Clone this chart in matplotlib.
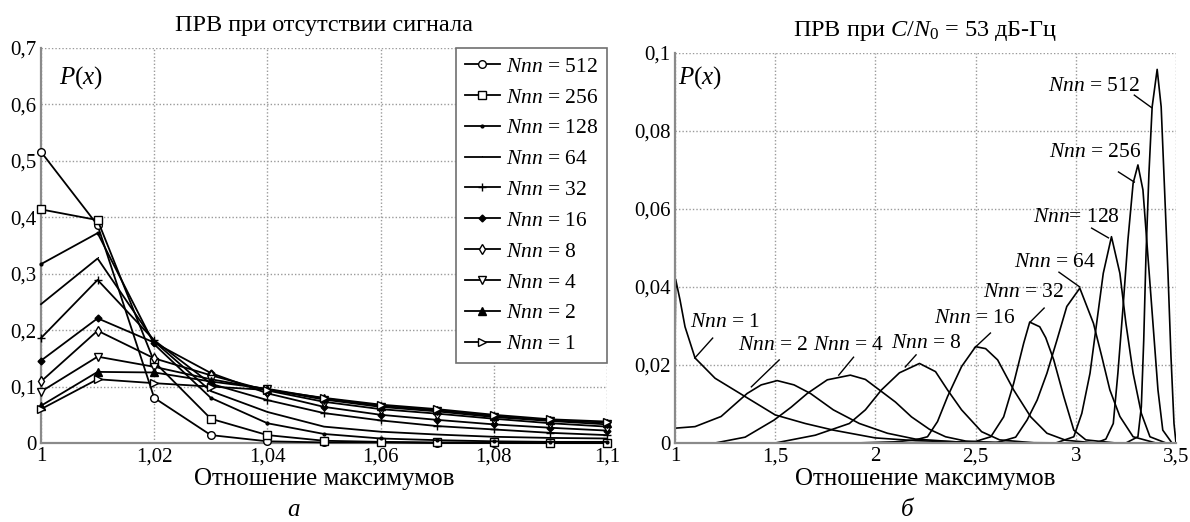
import matplotlib
matplotlib.use("Agg")
import matplotlib.pyplot as plt

plt.rcParams['font.family'] = ['Liberation Serif', 'DejaVu Serif']
plt.rcParams['mathtext.fontset'] = 'custom'
plt.rcParams['mathtext.rm'] = 'Liberation Serif'
plt.rcParams['mathtext.it'] = 'Liberation Serif:italic'

# ---------------- Left panel data ----------------
x_left = [1.00, 1.01, 1.02, 1.03, 1.04, 1.05, 1.06, 1.07, 1.08, 1.09, 1.10]
nnn_left = [512, 256, 128, 64, 32, 16, 8, 4, 2, 1]
p512 = [0.516, 0.386, 0.080, 0.014, 0.003, 0.001, 0.001, 0.000, 0.000, 0.000, 0.000]
p256 = [0.414, 0.395, 0.144, 0.043, 0.014, 0.004, 0.002, 0.001, 0.001, 0.000, 0.000]
p128 = [0.317, 0.372, 0.175, 0.080, 0.035, 0.016, 0.008, 0.005, 0.003, 0.002, 0.002]
p64 = [0.246, 0.327, 0.180, 0.092, 0.055, 0.029, 0.020, 0.015, 0.011, 0.009, 0.008]
p32 = [0.186, 0.289, 0.182, 0.105, 0.076, 0.053, 0.040, 0.030, 0.024, 0.018, 0.014]
p16 = [0.146, 0.221, 0.178, 0.124, 0.088, 0.064, 0.050, 0.041, 0.033, 0.027, 0.022]
p8 = [0.109, 0.199, 0.150, 0.120, 0.093, 0.073, 0.060, 0.052, 0.043, 0.035, 0.029]
p4 = [0.091, 0.153, 0.135, 0.113, 0.095, 0.077, 0.064, 0.056, 0.046, 0.039, 0.033]
p2 = [0.066, 0.126, 0.125, 0.109, 0.096, 0.079, 0.066, 0.058, 0.048, 0.040, 0.036]
p1 = [0.060, 0.113, 0.106, 0.100, 0.094, 0.080, 0.068, 0.060, 0.050, 0.042, 0.038]
left_series = [p512, p256, p128, p64, p32, p16, p8, p4, p2, p1]
left_markers = ['o', 's', '.', ',', '+', 'D', 'd', 'v', '^', '>']

xticks_left = [1.0, 1.02, 1.04, 1.06, 1.08, 1.1]
xticklabels_left = ['1', '1,02', '1,04', '1,06', '1,08', '1,1']
yticks_left = [0, 0.1, 0.2, 0.3, 0.4, 0.5, 0.6, 0.7]
yticklabels_left = ['0', '0,1', '0,2', '0,3', '0,4', '0,5', '0,6', '0,7']

# ---------------- Right panel data ----------------
r1_x = [1.000, 1.003, 1.025, 1.05, 1.10, 1.20, 1.35, 1.50, 1.65, 1.79, 2.00, 2.20, 2.40, 2.70, 3.00, 3.50]
r1_y = [0.023, 0.042, 0.0367, 0.0298, 0.0218, 0.0166, 0.0119, 0.0072, 0.0050, 0.0033, 0.0013, 0.0006, 0.0003, 0.0001, 0.0, 0.0]
r2_x = [1.0, 1.1, 1.23, 1.36, 1.43, 1.51, 1.594, 1.676, 1.79, 1.92, 2.06, 2.2, 2.4, 2.7]
r2_y = [0.0038, 0.0042, 0.0068, 0.0127, 0.0149, 0.0160, 0.0149, 0.0127, 0.0085, 0.0050, 0.0025, 0.0010, 0.0003, 0.0]
r4_x = [1.2, 1.35, 1.495, 1.58, 1.66, 1.76, 1.875, 1.95, 2.02, 2.10, 2.18, 2.27, 2.35, 2.45, 2.6]
r4_y = [0.0, 0.0015, 0.0059, 0.0092, 0.0127, 0.0162, 0.0174, 0.0163, 0.0136, 0.0105, 0.0067, 0.0035, 0.0016, 0.0005, 0.0]
r8_x = [1.5, 1.7, 1.87, 1.95, 2.03, 2.12, 2.22, 2.30, 2.36, 2.43, 2.53, 2.62, 2.8]
r8_y = [0.0, 0.0020, 0.0050, 0.0085, 0.0136, 0.0180, 0.0204, 0.0183, 0.0136, 0.0085, 0.0029, 0.0008, 0.0]
r16_x = [1.9, 2.1, 2.2, 2.26, 2.31, 2.36, 2.43, 2.50, 2.55, 2.61, 2.69, 2.775, 2.856, 2.95, 3.1]
r16_y = [0.0, 0.0003, 0.0008, 0.0016, 0.0055, 0.0119, 0.0196, 0.0247, 0.0242, 0.0213, 0.0136, 0.0067, 0.0025, 0.0007, 0.0]
r32_x = [2.3, 2.5, 2.576, 2.64, 2.69, 2.74, 2.77, 2.82, 2.85, 2.89, 2.94, 2.99, 3.05, 3.2]
r32_y = [0.0, 0.0004, 0.0016, 0.0067, 0.0153, 0.0256, 0.0310, 0.0298, 0.0270, 0.0213, 0.0119, 0.0033, 0.0008, 0.0]
r64_x = [2.6, 2.70, 2.757, 2.807, 2.856, 2.906, 2.955, 3.02, 3.088, 3.13, 3.17, 3.22, 3.286, 3.4]
r64_y = [0.0, 0.0015, 0.0059, 0.0110, 0.0179, 0.0264, 0.0350, 0.0397, 0.0307, 0.0221, 0.0136, 0.0068, 0.0016, 0.0]
r128_x = [2.9, 2.99, 3.03, 3.071, 3.104, 3.137, 3.178, 3.22, 3.25, 3.286, 3.327, 3.37, 3.45]
r128_y = [0.0, 0.0016, 0.0076, 0.0179, 0.0307, 0.0435, 0.0529, 0.0435, 0.0307, 0.0179, 0.0076, 0.0016, 0.0]
r256_x = [3.1, 3.15, 3.187, 3.21, 3.236, 3.26, 3.286, 3.31, 3.335, 3.36, 3.385, 3.41, 3.434, 3.48]
r256_y = [0.0, 0.0010, 0.0050, 0.0179, 0.0350, 0.0520, 0.0666, 0.0713, 0.0649, 0.0478, 0.0307, 0.0136, 0.0033, 0.0]
r512_x = [3.25, 3.31, 3.327, 3.339, 3.35, 3.365, 3.381, 3.406, 3.426, 3.443, 3.46, 3.475, 3.49, 3.5]
r512_y = [0.0, 0.0016, 0.0093, 0.0264, 0.0478, 0.0692, 0.0862, 0.0958, 0.0862, 0.0649, 0.0435, 0.0221, 0.0050, 0.0]
right_curves = [(r1_x, r1_y), (r2_x, r2_y), (r4_x, r4_y), (r8_x, r8_y), (r16_x, r16_y),
                (r32_x, r32_y), (r64_x, r64_y), (r128_x, r128_y), (r256_x, r256_y), (r512_x, r512_y)]

right_labels = ['$Nnn$ = 1', '$Nnn$ = 2', '$Nnn$ = 4', '$Nnn$ = 8', '$Nnn$ = 16',
                '$Nnn$ = 32', '$Nnn$ = 64', '$Nnn$= 128', '$Nnn$ = 256', '$Nnn$ = 512']
label_text_xy = [(1.252, 0.0310), (1.490, 0.0251), (1.866, 0.0251), (2.257, 0.0256), (2.497, 0.0320),
                 (2.740, 0.0385), (2.898, 0.0464), (3.005, 0.0577), (3.097, 0.0744), (3.092, 0.0913)]
label_line_from = [(1.188, 0.0269), (1.520, 0.0213), (1.891, 0.0220), (2.203, 0.0226), (2.574, 0.0282),
                   (2.842, 0.0346), (2.916, 0.0438), (3.079, 0.0551), (3.213, 0.0695), (3.292, 0.0892)]
label_line_to = [(1.099, 0.0218), (1.381, 0.0144), (1.817, 0.0174), (2.149, 0.0195), (2.495, 0.0244),
                 (2.772, 0.0310), (3.020, 0.0400), (3.163, 0.0526), (3.292, 0.0669), (3.378, 0.0860)]

xticks_right = [1, 1.5, 2, 2.5, 3, 3.5]
xticklabels_right = ['1', '1,5', '2', '2,5', '3', '3,5']
yticks_right = [0, 0.02, 0.04, 0.06, 0.08, 0.1]
yticklabels_right = ['0', '0,02', '0,04', '0,06', '0,08', '0,1']

# ---------------- Figure ----------------
W, H = 1190, 522
fig = plt.figure(figsize=(W / 100, H / 100), dpi=100)

def ax_rect(x0, y0, x1, y1):
    return [x0 / W, 1 - y1 / H, (x1 - x0) / W, (y1 - y0) / H]

axL = fig.add_axes(ax_rect(41, 48, 607, 443))
axR = fig.add_axes(ax_rect(675, 53, 1176, 443))

spine_col = '#8a8a8a'
grid_col = '#9a9a9a'
for ax in (axL, axR):
    for s in ('top', 'right'):
        ax.spines[s].set_visible(False)
    for s in ('left', 'bottom'):
        ax.spines[s].set_color(spine_col)
        ax.spines[s].set_linewidth(1.6)
    ax.grid(True, linestyle=(0, (1, 1.5)), color=grid_col, linewidth=1.0)
    ax.set_axisbelow(True)
    ax.tick_params(length=0, labelsize=15, pad=3)

# Left panel
for vals, mk, n in zip(left_series, left_markers, nnn_left):
    ms = 5.5
    if mk == '.':
        ms = 4
    elif mk == ',':
        ms = 2
    elif mk == '+':
        ms = 6
    elif mk == 'D':
        ms = 3.5
    face = 'black' if mk in ('.', ',', '+', 'D', '^') else 'white'
    axL.plot(x_left, vals, color='black', linewidth=1.3, marker=mk, markersize=ms,
             markerfacecolor=face, markeredgecolor='black', markeredgewidth=1.0,
             label='$Nnn$ = %d' % n, clip_on=False, zorder=3)
axL.set_xlim(1.0, 1.1)
axL.set_ylim(0, 0.7)
axL.set_xticks(xticks_left, xticklabels_left)
axL.set_yticks(yticks_left, yticklabels_left)
leg = axL.legend(loc='upper right', fontsize=15.5, frameon=True, fancybox=False,
                 borderaxespad=0, numpoints=1, handlelength=1.6, handletextpad=0.3,
                 labelspacing=0.5, borderpad=0.4, framealpha=1)
leg.get_frame().set_edgecolor('#707070')
leg.get_frame().set_linewidth(1.2)
axL.set_title('ПРВ при отсутствии сигнала', fontsize=17.5, pad=12)
axL.set_xlabel('Отношение максимумов', fontsize=18, labelpad=1)
axL.text(0.0716, 0.924, '$P(x)$', transform=axL.transAxes, fontsize=18, ha='center', va='center')

# Right panel
for xs, ys in right_curves:
    axR.plot(xs, ys, color='black', linewidth=1.2)
for lab, txy, lf, lt in zip(right_labels, label_text_xy, label_line_from, label_line_to):
    axR.text(txy[0], txy[1], lab, fontsize=15.5, ha='center', va='center')
    axR.plot([lf[0], lt[0]], [lf[1], lt[1]], color='black', linewidth=1.0)
axR.set_xlim(1, 3.5)
axR.set_ylim(0, 0.1)
axR.set_xticks(xticks_right, xticklabels_right)
axR.set_yticks(yticks_right, yticklabels_right)
axR.set_title('ПРВ при $C/N_0$ = 53 дБ-Гц', fontsize=17.5, pad=12)
axR.set_xlabel('Отношение максимумов', fontsize=18, labelpad=1)
axR.text(0.0495, 0.936, '$P(x)$', transform=axR.transAxes, fontsize=18, ha='center', va='center')

fig.text(293 / W, 1 - 510 / H, 'а', fontsize=18, style='italic', ha='center', va='center')
fig.text(907 / W, 1 - 510 / H, 'б', fontsize=18, style='italic', ha='center', va='center')

fig.savefig('out.png', dpi=100)
